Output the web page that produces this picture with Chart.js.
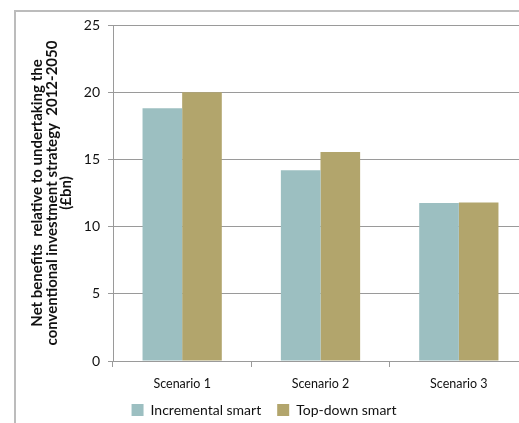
<!DOCTYPE html>
<html>
<head>
<meta charset="utf-8">
<script src="https://cdn.jsdelivr.net/npm/chart.js@4/dist/chart.umd.min.js"></script>
<style>
    html, body { margin:0; padding:0; background:#fff; overflow:hidden; }
    #wrap { position:relative; width:519px; height:423px; overflow:hidden; }
    #frame { position:absolute; left:14px; top:10px; width:560px; height:460px; border:2px solid #bcbcbc; box-sizing:border-box; }
    #mainChart { position:absolute; left:0; top:0; }
</style>
</head>
<body>
<div id="wrap">
    <div id="frame"></div>
    <canvas id="mainChart" width="554" height="427"></canvas>
</div>
<script>
const scenarios = ["Scenario 1", "Scenario 2", "Scenario 3"];
const incrementalSmart = [18.8, 14.2, 11.75];
const topDownSmart = [20.0, 15.55, 11.8];
const yTicks = [0, 5, 10, 15, 20, 25];
const yTitle = [
    "Net benefits  relative to undertaking the",
    "conventional investment strategy  2012-2050",
    "(\u00a3bn)"
];

const font = "Lato, 'Open Sans', sans-serif";
const gridColor = "#9a9a9a";

// x scale is kept short so the legend sits close; give its labels room to draw anyway
const labelRoom = {
    id: "labelRoom",
    afterLayout: c => { c.scales.x.bottom = c.scales.x.top + 40; }
};

new Chart(document.getElementById("mainChart"), {
    type: "bar",
    data: {
        labels: scenarios,
        datasets: [
            {label: "Incremental smart", data: incrementalSmart, backgroundColor: "#9cbfc1"},
            {label: "Top-down smart", data: topDownSmart, backgroundColor: "#b2a56c"}
        ]
    },
    plugins: [labelRoom],
    options: {
        responsive: false,
        animation: false,
        devicePixelRatio: 1,
        layout: {padding: {top: 25, right: 26, left: 0, bottom: 0}},
        datasets: {bar: {categoryPercentage: 0.573, barPercentage: 1}},
        plugins: {
            tooltip: {enabled: false},
            legend: {
                position: "bottom",
                labels: {
                    boxWidth: 12, boxHeight: 12, padding: 16,
                    color: "#111",
                    font: {family: font, size: 14}
                }
            }
        },
        scales: {
            x: {
                grid: {drawOnChartArea: false, drawTicks: true, tickLength: 6, color: gridColor},
                border: {color: gridColor, width: 1},
                ticks: {color: "#111", padding: 9, maxRotation: 0, font: {family: font, size: 12.5}},
                afterFit: s => { s.height = 26; }
            },
            y: {
                min: 0, max: 25,
                afterBuildTicks: s => { s.ticks = yTicks.map(v => ({value: v})); },
                grid: {color: gridColor, tickLength: 5},
                border: {color: gridColor, width: 1},
                ticks: {color: "#111", padding: 8, font: {family: font, size: 14}},
                title: {
                    display: true,
                    text: yTitle,
                    color: "#111",
                    padding: {top: 30, bottom: 0},
                    font: {family: font, size: 15, weight: "bold", lineHeight: "14.6px"}
                },
                afterFit: s => { s.width = 113; }
            }
        }
    }
});
</script>
</body>
</html>
